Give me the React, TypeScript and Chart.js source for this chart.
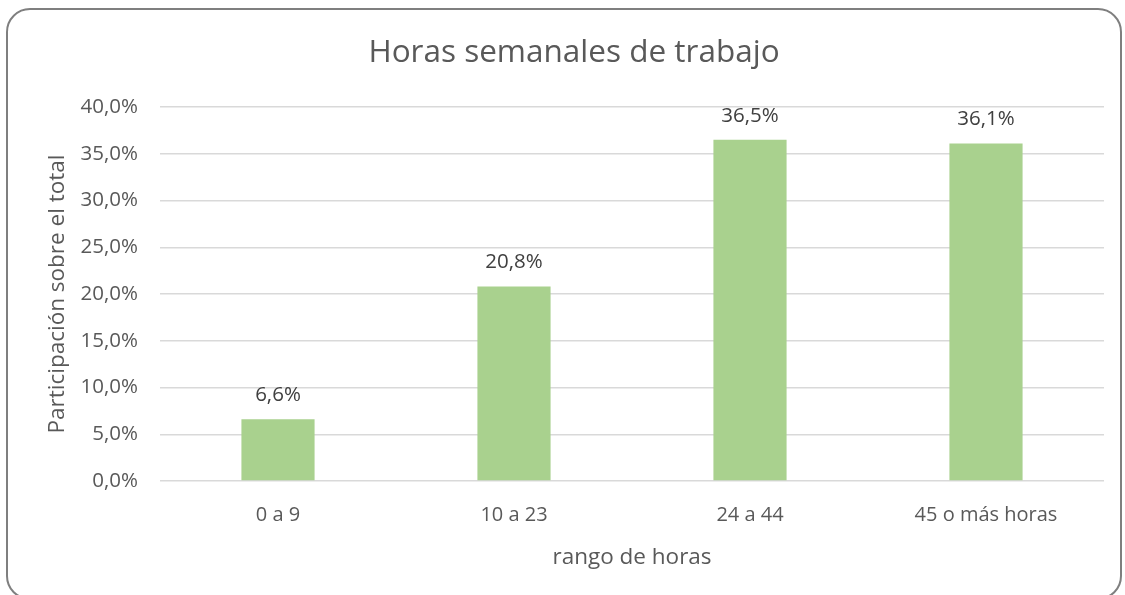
import React, { useEffect, useRef } from "react";
import { Chart, registerables } from "chart.js";

Chart.register(...registerables);

const categories = ["0 a 9", "10 a 23", "24 a 44", "45 o más horas"];
const values = [6.6, 20.8, 36.5, 36.1];
const titleText = "Horas semanales de trabajo";
const xTitle = "rango de horas";
const yTitle = "Participación sobre el total";

const FONT = "'Open Sans', 'Liberation Sans', sans-serif";
const TEXT = "#595959";

const fmt = (v: number) => v.toFixed(1).replace(".", ",") + "%";

const dataLabels = {
  id: "dataLabels",
  afterDatasetsDraw(chart: any) {
    const ctx = chart.ctx;
    const meta = chart.getDatasetMeta(0);
    ctx.save();
    ctx.font = `20.5px ${FONT}`;
    ctx.fillStyle = "#404040";
    ctx.textAlign = "center";
    ctx.textBaseline = "middle";
    meta.data.forEach((bar: any, i: number) => {
      ctx.fillText(fmt(values[i]), bar.x, bar.y - 24);
    });
    ctx.restore();
  },
};

export default function App() {
  const ref = useRef<HTMLCanvasElement>(null);
  useEffect(() => {
    const chart = new Chart(ref.current!, {
      type: "bar",
      data: {
        labels: categories,
        datasets: [
          {
            data: values,
            backgroundColor: "#a9d18e",
            borderWidth: 0,
            categoryPercentage: 1,
            barPercentage: 0.31,
          },
        ],
      },
      options: {
        animation: false,
        responsive: false,
        maintainAspectRatio: false,
        layout: { padding: { left: 44, right: 21, top: 10, bottom: 20 } },
        plugins: {
          legend: { display: false },
          tooltip: { enabled: false },
          title: {
            display: true,
            text: titleText,
            color: TEXT,
            font: { family: FONT, size: 31.5, weight: "normal" as any, lineHeight: 1.2 },
            padding: { top: 24, bottom: 35.2 },
          },
        },
        scales: {
          x: {
            grid: { display: false, drawTicks: false },
            border: { display: false },
            ticks: { color: TEXT, font: { family: FONT, size: 20 }, padding: 22 },
            title: {
              display: true,
              text: xTitle,
              color: TEXT,
              font: { family: FONT, size: 22.5 },
            },
            afterFit: (s: any) => {
              s.height = 94;
            },
          },
          y: {
            min: 0,
            max: 40,
            grid: { color: "#d9d9d9", lineWidth: 1.5, drawTicks: false },
            border: { display: false },
            ticks: {
              stepSize: 5,
              color: TEXT,
              font: { family: FONT, size: 20.5 },
              padding: 22,
              callback: (v: any) => fmt(Number(v)),
            },
            title: {
              display: true,
              text: yTitle,
              color: TEXT,
              font: { family: FONT, size: 22.5 },
              padding: 0,
            },
            afterFit: (s: any) => {
              s.width = 116;
            },
          },
        },
      },
      plugins: [dataLabels],
    });
    return () => chart.destroy();
  }, []);

  return (
    <div style={{ position: "fixed", left: 0, top: 0, width: 1125, height: 595, background: "#fff", overflow: "hidden" }}>
      <canvas ref={ref} width={1125} height={595} style={{ position: "absolute", left: 0, top: 0 }} />
      <div
        style={{
          position: "absolute",
          left: 6,
          top: 8,
          width: 1116,
          height: 592,
          boxSizing: "border-box",
          border: "2px solid #7f7f7f",
          borderRadius: 24,
          pointerEvents: "none",
        }}
      />
    </div>
  );
}
